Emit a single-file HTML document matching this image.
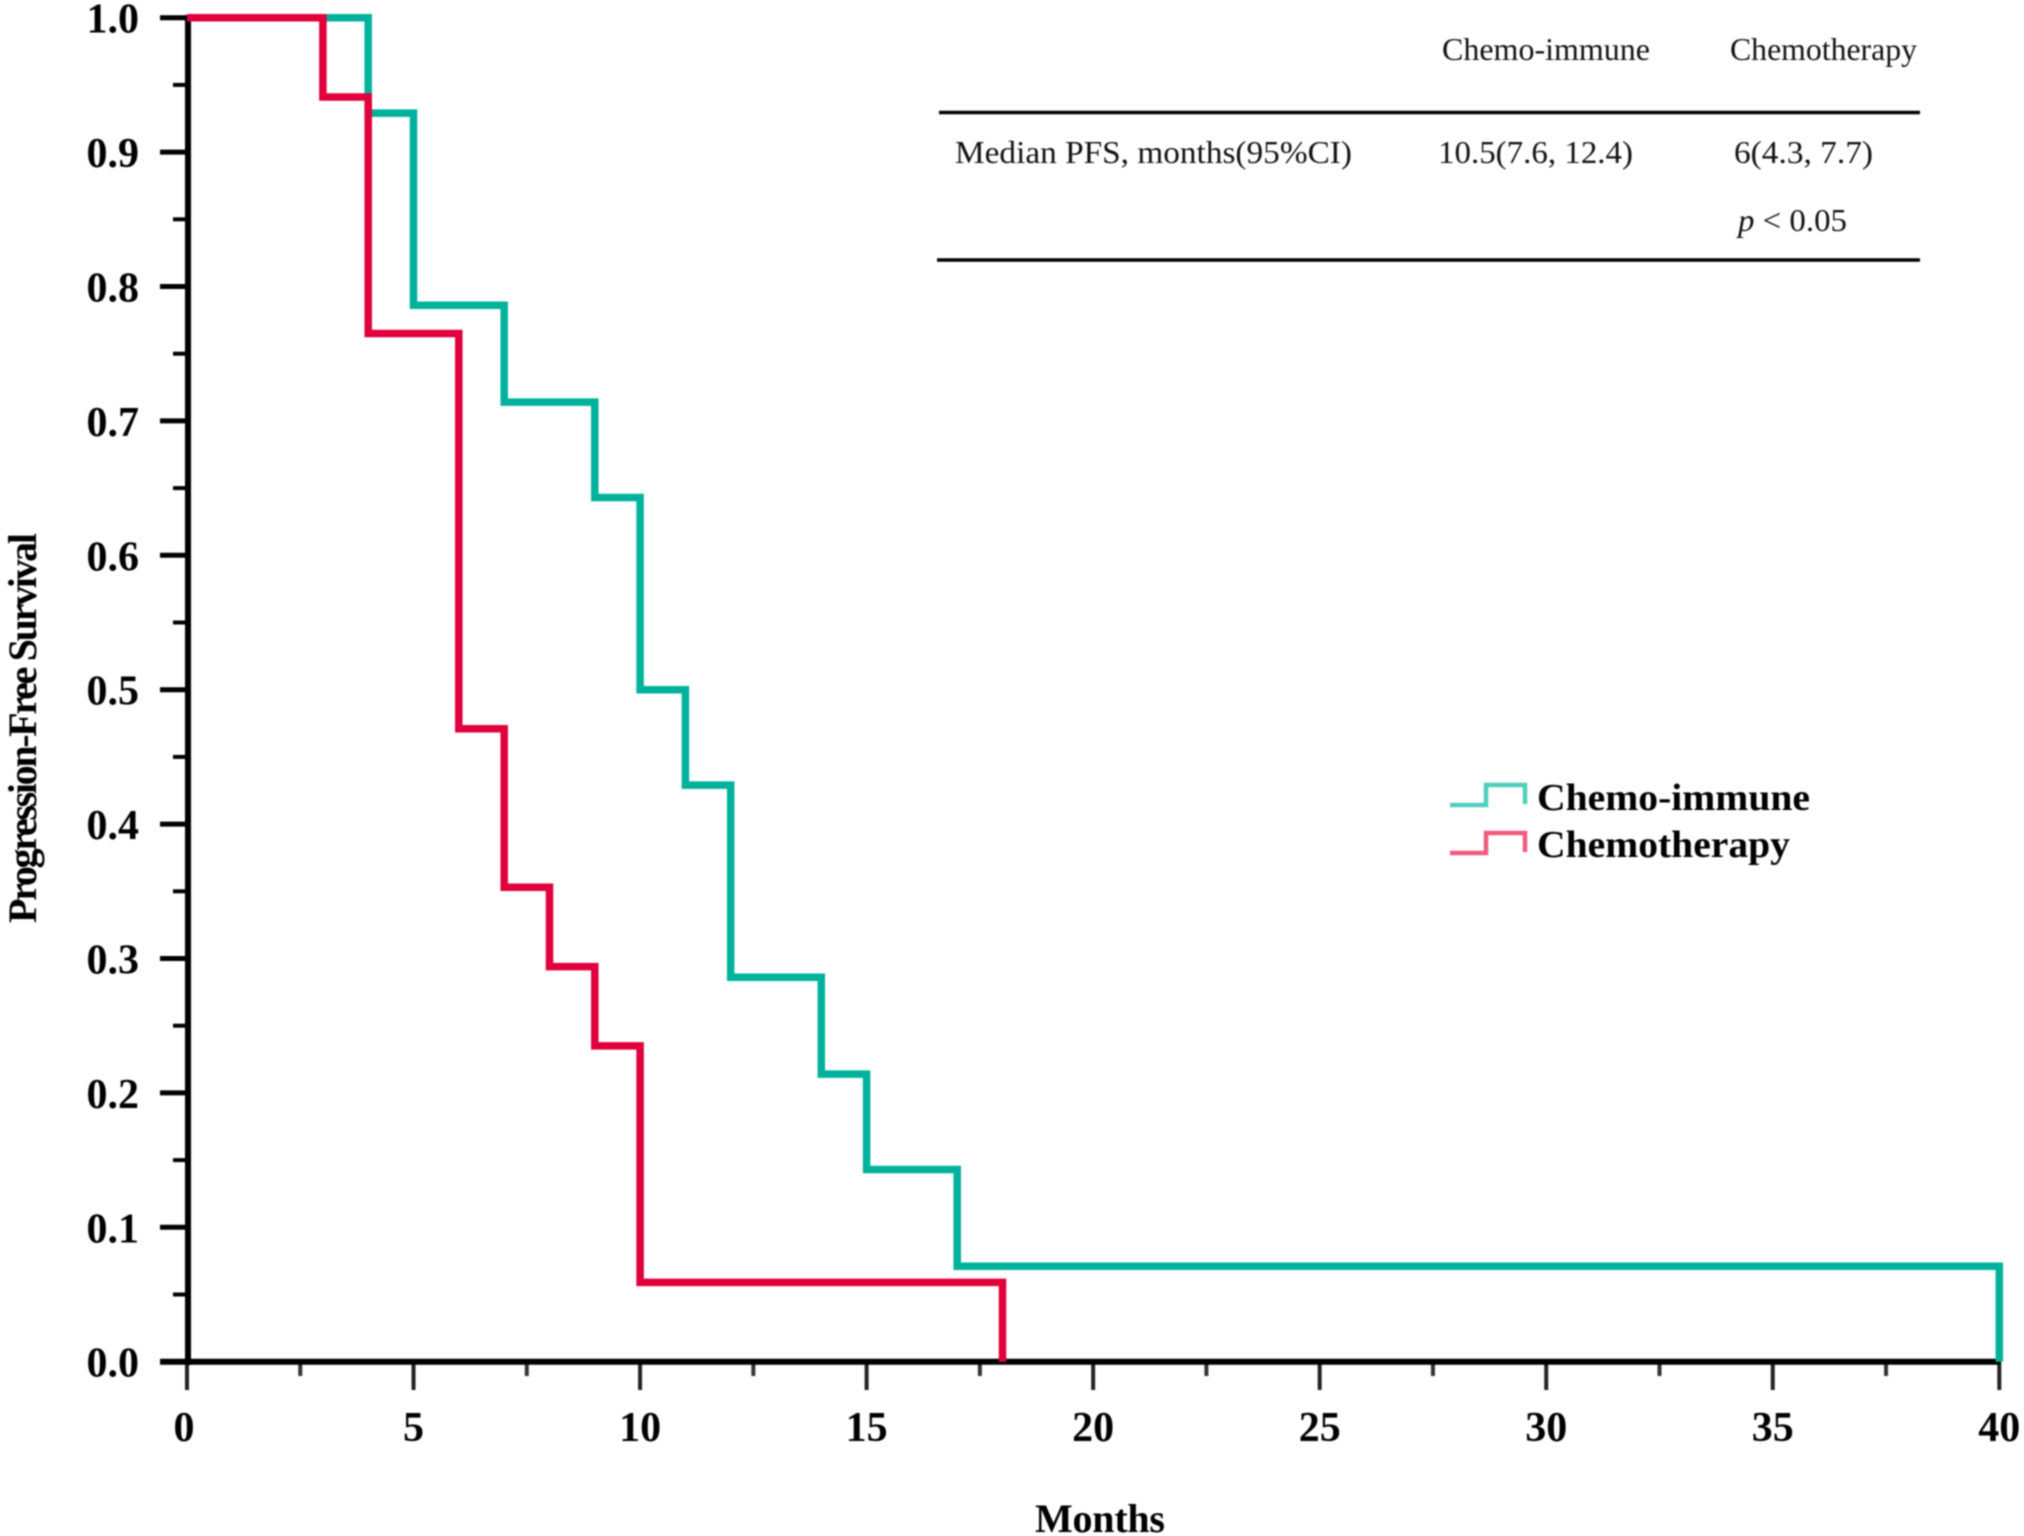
<!DOCTYPE html>
<html lang="en">
<head>
<meta charset="utf-8">
<title>Progression-Free Survival</title>
<style>
html,body{margin:0;padding:0;background:#fff;width:2024px;height:1536px;overflow:hidden}
svg{display:block;filter:blur(0.7px)}
text{font-family:"Liberation Serif",serif;fill:#000}
.tick{font-weight:bold;font-size:42px}
.title{font-weight:bold;font-size:40px}
.tbl{font-size:32px;fill:#111}
.lg{font-weight:bold;font-size:38px}
</style>
</head>
<body>
<svg id="chart" xmlns="http://www.w3.org/2000/svg" width="2024" height="1536" viewBox="0 0 2024 1536">
  <rect x="0" y="0" width="2024" height="1536" fill="#fff"/>
  <g id="axes"></g>
  <g id="series"></g>

  <text class="title" x="1100" y="1532" text-anchor="middle" textLength="130" lengthAdjust="spacing">Months</text>
  <text class="title" transform="translate(36,923) rotate(-90)" x="0" y="0" textLength="390" lengthAdjust="spacing">Progression-Free Survival</text>

  <g>
    <text class="tbl" x="1442" y="60" textLength="208" lengthAdjust="spacingAndGlyphs">Chemo-immune</text>
    <text class="tbl" x="1730" y="60" textLength="187" lengthAdjust="spacingAndGlyphs">Chemotherapy</text>
    <line x1="939" y1="112.5" x2="1920" y2="112.5" stroke="#000" stroke-width="3.5"/>
    <text class="tbl" x="955" y="163" textLength="397" lengthAdjust="spacingAndGlyphs">Median PFS, months(95%CI)</text>
    <text class="tbl" x="1438" y="163" textLength="195" lengthAdjust="spacingAndGlyphs">10.5(7.6, 12.4)</text>
    <text class="tbl" x="1734" y="163" textLength="139" lengthAdjust="spacingAndGlyphs">6(4.3, 7.7)</text>
    <text class="tbl" x="1738" y="231" textLength="109" lengthAdjust="spacingAndGlyphs"><tspan font-style="italic">p</tspan> &lt; 0.05</text>
    <line x1="937" y1="260" x2="1920" y2="260" stroke="#000" stroke-width="3.5"/>
  </g>

  <g>
    <polyline points="1450,805 1486,805 1486,785 1525,785 1525,804" fill="none" stroke="#4fd0bc" stroke-width="4.5"/>
    <text class="lg" x="1537" y="810" textLength="273" lengthAdjust="spacingAndGlyphs">Chemo-immune</text>
    <polyline points="1450,853 1486,853 1486,833 1525,833 1525,852" fill="none" stroke="#ef5b80" stroke-width="4.5"/>
    <text class="lg" x="1537" y="857" textLength="253" lengthAdjust="spacingAndGlyphs">Chemotherapy</text>
  </g>
</svg>
<script>
const xTickLabels = [0, 5, 10, 15, 20, 25, 30, 35, 40];
const xMinorTicks = [2.5, 7.5, 12.5, 17.5, 22.5, 27.5, 32.5, 37.5];
const yTickLabels = ["0.0", "0.1", "0.2", "0.3", "0.4", "0.5", "0.6", "0.7", "0.8", "0.9", "1.0"];
const yMinorTicks = [0.05, 0.15, 0.25, 0.35, 0.45, 0.55, 0.65, 0.75, 0.85, 0.95];

const chemoImmuneMonths = [0, 4, 5, 7, 9, 10, 11, 12, 14, 15, 17, 40];
const chemoImmuneSurvival = [1.0, 0.929, 0.786, 0.714, 0.643, 0.5, 0.429, 0.286, 0.214, 0.143, 0.071, 0.0];
const chemotherapyMonths = [0, 3, 4, 6, 7, 8, 9, 10, 18];
const chemotherapySurvival = [1.0, 0.941, 0.765, 0.471, 0.353, 0.294, 0.235, 0.059, 0.0];

const NS = "http://www.w3.org/2000/svg";
const X0 = 187, X1 = 1999.3, XMAX = 40;
const Y0 = 1361.7, Y1 = 17.7;
function xScale(v) { return X0 + (X1 - X0) * v / XMAX; }
function yScale(v) { return Y0 - (Y0 - Y1) * v; }

function make(tag, parent, attrs) {
  const el = document.createElementNS(NS, tag);
  for (const k in attrs) el.setAttribute(k, attrs[k]);
  parent.appendChild(el);
  return el;
}

const axes = document.getElementById("axes");
const seriesGroup = document.getElementById("series");

xTickLabels.forEach(function (v) {
  const t = make("line", axes, { x1: xScale(v), x2: xScale(v), y1: Y0, y2: 1390, stroke: "#222", "stroke-width": 4 });
  
  
  const lab = make("text", axes, { x: xScale(v) - (v === 0 ? 3 : 0), y: 1441, "text-anchor": "middle", class: "tick" });
  
  
  lab.textContent = v;
});
xMinorTicks.forEach(function (v) {
  const t = make("line", axes, { x1: xScale(v), x2: xScale(v), y1: Y0, y2: 1376, stroke: "#333", "stroke-width": 4 });
  
  
});
yTickLabels.forEach(function (s) {
  const v = parseFloat(s);
  const t = make("line", axes, { x1: 160, x2: X0, y1: yScale(v), y2: yScale(v), stroke: "#000", "stroke-width": 5 });
  
  
  const lab = make("text", axes, { x: 139, y: yScale(v) + 15, "text-anchor": "end", class: "tick" });
  
  
  lab.textContent = s;
});
yMinorTicks.forEach(function (v) {
  const t = make("line", axes, { x1: 173, x2: X0, y1: yScale(v), y2: yScale(v), stroke: "#000", "stroke-width": 4 });
  
  
});

const yAxisLine = make("line", axes, { x1: 188, x2: 188, y1: 15, y2: 1365, stroke: "#000", "stroke-width": 6 });


const xAxisLine = make("line", axes, { x1: 160, x2: X1 + 1, y1: Y0, y2: Y0, stroke: "#000", "stroke-width": 6 });



function stepPoints(months, surv) {
  const pts = [[xScale(months[0]), yScale(surv[0])]];
  for (let i = 1; i < months.length; i++) {
    pts.push([xScale(months[i]), yScale(surv[i - 1])]);
    pts.push([xScale(months[i]), yScale(surv[i])]);
  }
  return pts.map(function (p) { return p[0].toFixed(1) + "," + p[1].toFixed(1); }).join(" ");
}

const teal = make("polyline", seriesGroup, { points: stepPoints(chemoImmuneMonths, chemoImmuneSurvival), fill: "none", stroke: "#00b29c", "stroke-width": 7.5, "stroke-linejoin": "miter" });


const red = make("polyline", seriesGroup, { points: stepPoints(chemotherapyMonths, chemotherapySurvival), fill: "none", stroke: "#e0003c", "stroke-width": 7.5, "stroke-linejoin": "miter" });


</script>
</body>
</html>
